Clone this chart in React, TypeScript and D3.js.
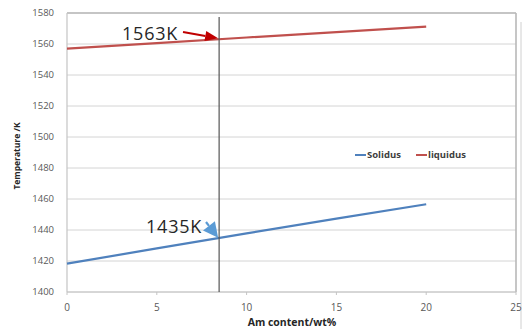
import React from "react";
import * as d3 from "d3";

// Am content (wt%) and phase-boundary temperatures (K)
const amContent = [0, 5, 10, 15, 20];
const solidus = [1418.3, 1428.1, 1437.8, 1447.3, 1456.6];
const liquidus = [1557, 1560.6, 1564.2, 1567.6, 1571.2];

const xTicks = [0, 5, 10, 15, 20, 25];
const yTicks = [1400, 1420, 1440, 1460, 1480, 1500, 1520, 1540, 1560, 1580];

// marker at the chosen composition and the temperatures read there
const markerContent = 8.47;
const liquidusLabel = 1563;
const solidusLabel = 1435;

const W = 528;
const H = 329;
const FONT = "'Open Sans', 'Liberation Sans', sans-serif";

const BLUE = "#4f81bd";
const RED = "#c0504d";

export default function App() {
  const x = d3.scaleLinear().domain([0, 25]).range([67, 516]);
  const y = d3.scaleLinear().domain([1400, 1580]).range([292, 13]);

  const line = d3
    .line<[number, number]>()
    .x((d) => x(d[0]))
    .y((d) => y(d[1]));

  const solPts = amContent.map((c, i) => [c, solidus[i]] as [number, number]);
  const liqPts = amContent.map((c, i) => [c, liquidus[i]] as [number, number]);

  const arrow = (
    x0: number,
    y0: number,
    x1: number,
    y1: number,
    color: string,
    headLen: number,
    headW: number
  ) => {
    const a = Math.atan2(y1 - y0, x1 - x0);
    const bx = x1 - headLen * Math.cos(a);
    const by = y1 - headLen * Math.sin(a);
    const px = -Math.sin(a) * (headW / 2);
    const py = Math.cos(a) * (headW / 2);
    return (
      <g>
        <line x1={x0} y1={y0} x2={bx} y2={by} stroke={color} strokeWidth={2.2} />
        <polygon
          points={`${x1},${y1} ${bx + px},${by + py} ${bx - px},${by - py}`}
          fill={color}
        />
      </g>
    );
  };

  const mx = x(markerContent);
  const liqY = y(liquidusLabel);
  const solY = y(solidusLabel);

  return (
    <svg
      width={W}
      height={H}
      style={{ position: "absolute", left: 0, top: 0, background: "#fff" }}
      fontFamily={FONT}
    >
      <rect width={W} height={H} fill="#fff" />

      {/* horizontal gridlines */}
      {yTicks.map((t) => (
        <line
          key={t}
          x1={x(0)}
          x2={x(25)}
          y1={y(t)}
          y2={y(t)}
          stroke="#d4d4d4"
          strokeWidth={1}
        />
      ))}

      {/* plot frame */}
      <line x1={x(0)} x2={x(25)} y1={y(1580)} y2={y(1580)} stroke="#b8b8b8" strokeWidth={1.6} />
      <line x1={x(25)} x2={x(25)} y1={y(1580)} y2={y(1400)} stroke="#b8b8b8" strokeWidth={1.6} />
      <line x1={x(0)} x2={x(0)} y1={y(1580)} y2={y(1400)} stroke="#c4c4c4" strokeWidth={1.2} />
      <line x1={x(0)} x2={x(25)} y1={y(1400)} y2={y(1400)} stroke="#c4c4c4" strokeWidth={1.2} />
      <line x1={521} x2={521} y1={22} y2={329} stroke="#d0d0d0" strokeWidth={1} />

      {/* x ticks */}
      {xTicks.map((t) => (
        <g key={t}>
          <line x1={x(t)} x2={x(t)} y1={y(1400)} y2={y(1400) + 3} stroke="#c4c4c4" />
          <text
            x={x(t)}
            y={y(1400) + 19}
            textAnchor="middle"
            fontSize={10}
            fill="#595959"
          >
            {t}
          </text>
        </g>
      ))}

      {/* y tick labels */}
      {yTicks.map((t) => (
        <text
          key={t}
          x={54}
          y={y(t)}
          dy="0.35em"
          textAnchor="end"
          fontSize={9.5}
          fill="#595959"
        >
          {t}
        </text>
      ))}

      {/* series */}
      <path d={line(solPts) ?? ""} fill="none" stroke={BLUE} strokeWidth={2.2} />
      <path d={line(liqPts) ?? ""} fill="none" stroke={RED} strokeWidth={2.2} />

      {/* composition marker */}
      <line x1={mx} x2={mx} y1={y(1577.5)} y2={y(1400)} stroke="#555" strokeWidth={1.2} />

      {/* annotations */}
      <text x={122} y={40} fontSize={18} fill="#262626" letterSpacing={0.8}>
        {`${liquidusLabel}K`}
      </text>
      {arrow(183, 32, mx - 1, liqY - 1, "#c00000", 13, 10)}

      <text x={146} y={233} fontSize={18} fill="#262626" letterSpacing={0.8}>
        {`${solidusLabel}K`}
      </text>
      {arrow(206, 222, mx - 1, solY, "#5b9bd5", 15, 15)}

      {/* legend */}
      <line x1={355} x2={366} y1={155} y2={155} stroke={BLUE} strokeWidth={2} />
      <text x={367} y={155} dy="0.35em" fontSize={9.5} fontWeight="bold" fill="#404040">
        Solidus
      </text>
      <line x1={416} x2={427} y1={155} y2={155} stroke={RED} strokeWidth={2} />
      <text x={428} y={155} dy="0.35em" fontSize={9.5} fontWeight="bold" fill="#404040">
        liquidus
      </text>

      {/* axis titles */}
      <text x={292} y={326} textAnchor="middle" fontSize={10.5} fontWeight="bold" fill="#262626">
        Am content/wt%
      </text>
      <text
        transform={`translate(20,156) rotate(-90)`}
        textAnchor="middle"
        fontSize={8.5}
        fontWeight="bold"
        fill="#262626"
      >
        Temperature /K
      </text>
    </svg>
  );
}
